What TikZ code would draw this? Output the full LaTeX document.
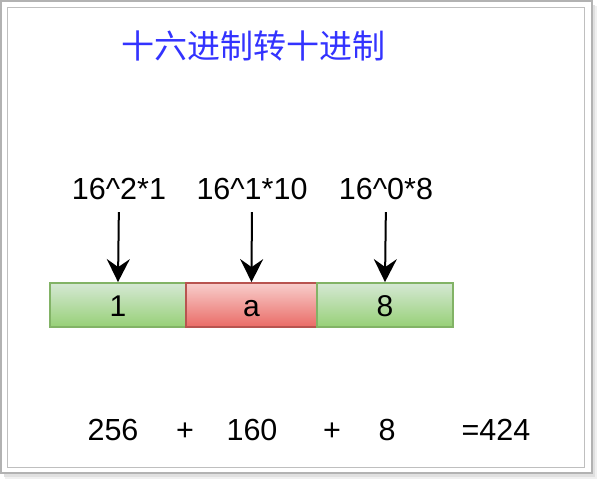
\documentclass[tikz,border=0pt]{standalone}
\usepackage{fontspec}
\setmainfont{Liberation Sans}
\newfontfamily\cjk{Noto Sans CJK SC}
\usetikzlibrary{arrows.meta}
\definecolor{titleblue}{RGB}{51,51,255}
\definecolor{greentop}{HTML}{D5E8D4}
\definecolor{greenbot}{HTML}{97D077}
\definecolor{greenline}{HTML}{82B366}
\definecolor{redtop}{HTML}{F8CECC}
\definecolor{redbot}{HTML}{EA6B66}
\definecolor{redline}{HTML}{B85450}

\begin{document}
\begin{tikzpicture}[x=1pt,y=-1pt]
				\useasboundingbox (0,0) rectangle (597,479);
				% frame with shadow
				\fill[black!6] (5,6) rectangle (597,479);
				\fill[black!12] (4,5) rectangle (595,477);
				\draw[fill=white,draw=black!30,line width=1.5pt] (1,1) rectangle (592,473);
				\draw[draw=black!25,line width=1pt] (7,7.5) rectangle (584.5,467);

				\node[font=\cjk\fontsize{33}{33}\selectfont,text=titleblue] (title) at (253,46) {十六进制转十进制};

				\begin{scope}[every node/.style={rectangle,line width=1.8pt,minimum height=44pt,inner sep=0pt,
						font=\fontsize{30}{30}\selectfont,text height=22pt,text depth=0pt}]
					\node[draw=greenline,top color=greentop,bottom color=greenbot,minimum width=136pt] (b_1) at (118,305) {1};
					\node[draw=redline,top color=redtop,bottom color=redbot,minimum width=131pt] (b_2) at (251.5,305) {a};
					\node[draw=greenline,top color=greentop,bottom color=greenbot,minimum width=136pt] (b_3) at (385,305) {8};
				\end{scope}

				\begin{scope}[every node/.style={inner sep=0pt,font=\fontsize{30.5}{30}\selectfont,text height=22pt,text depth=0pt,anchor=base}]
					\node (l_1) at (119,199) {16\^{}2*1};
					\node (l_2) at (252,199) {16\^{}1*10};
					\node (l_3) at (386,199) {16\^{}0*8};

					\node (s_1) at (113,440) {256};
					\node (p_1) at (185,440) {+};
					\node (s_2) at (252,440) {160};
					\node (p_2) at (332,440) {+};
					\node (s_3) at (387,440) {8};
					\node (sum) at (496,440) {=424};
				\end{scope}

				\begin{scope}[>={Stealth[length=23pt,width=23pt,inset=8pt]},line width=2pt,shorten <=13pt]
					\path [->] (l_1.south) edge node {} (b_1.north);
					\path [->] (l_2.south) edge node {} (b_2.north);
					\path [->] (l_3.south) edge node {} (b_3.north);
				\end{scope}
			\end{tikzpicture}
\end{document}
